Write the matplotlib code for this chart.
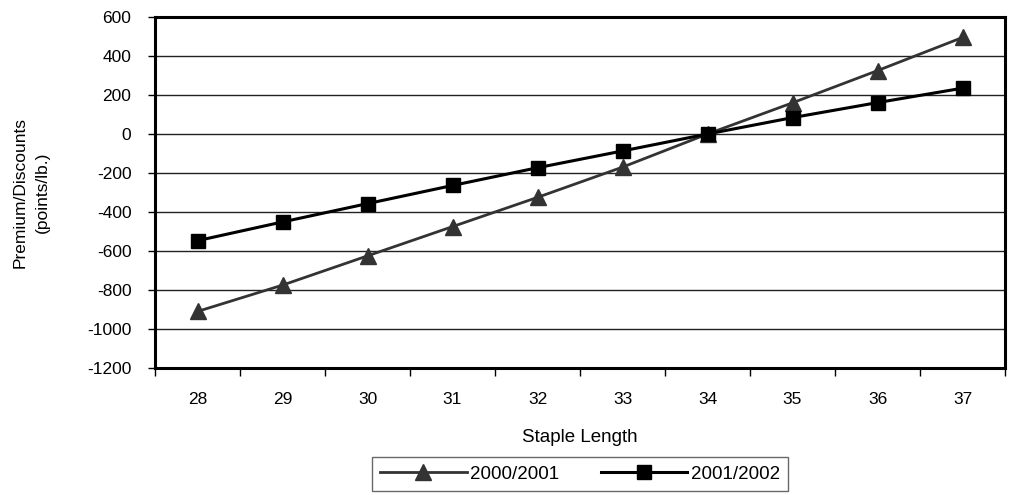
import matplotlib
matplotlib.use("Agg")
import matplotlib.pyplot as plt
import numpy as np

plt.rcParams['font.family'] = ['Liberation Sans', 'DejaVu Sans']

categories = ["28", "29", "30", "31", "32", "33", "34", "35", "36", "37"]
series_2000 = [-910, -775, -625, -475, -325, -170, 0, 160, 325, 495]
series_2001 = [-547, -451, -357, -264, -173, -87, 0, 84, 161, 235]
yticks = [600, 400, 200, 0, -200, -400, -600, -800, -1000, -1200]

fig = plt.figure(figsize=(10.13, 4.95), dpi=100)
ax = fig.add_axes([155/1013, 1-368/495, 850/1013, 351/495])

x = np.arange(len(categories))
ax.plot(x, series_2000, color='#333333', lw=2, marker='^', ms=11,
        markerfacecolor='#333333', markeredgecolor='#333333', label='2000/2001', zorder=3)
ax.plot(x, series_2001, color='black', lw=2.2, marker='s', ms=10,
        markerfacecolor='black', markeredgecolor='black', label='2001/2002', zorder=4)

ax.set_xlim(-0.5, len(categories) - 0.5)
ax.set_ylim(-1200, 600)
ax.set_yticks(yticks)
ax.set_yticklabels([str(v) for v in yticks], fontsize=12.5)
ax.set_xticks(x)
ax.set_xticklabels(categories, fontsize=12.5)
ax.set_xticks(np.arange(-0.5, len(categories)), minor=True)
ax.tick_params(axis='x', which='major', length=0, pad=17)
ax.tick_params(axis='x', which='minor', length=6, width=1, color='black', direction='out')
ax.tick_params(axis='y', length=5, width=1, direction='out', pad=12)

ax.yaxis.grid(True, color='#222222', lw=1)
ax.set_axisbelow(True)
for s in ax.spines.values():
    s.set_linewidth(2.2)
    s.set_color('black')

ax.set_xlabel('Staple Length', fontsize=13.5, labelpad=16)
fig.text(31/1013, 1-192/495, 'Premium/Discounts\n(points/lb.)', rotation=90,
         ha='center', va='center', fontsize=12.5, linespacing=1.6, multialignment='center')

leg = ax.legend(loc='upper center', bbox_to_anchor=(0.5, -89/351), ncol=2, frameon=True,
                fancybox=False, edgecolor='#444444', fontsize=13.5, handlelength=4.6,
                columnspacing=2.2, handletextpad=0.2, borderpad=0.45, borderaxespad=0)
leg.get_frame().set_linewidth(1)

fig.savefig('out.png', dpi=100)
